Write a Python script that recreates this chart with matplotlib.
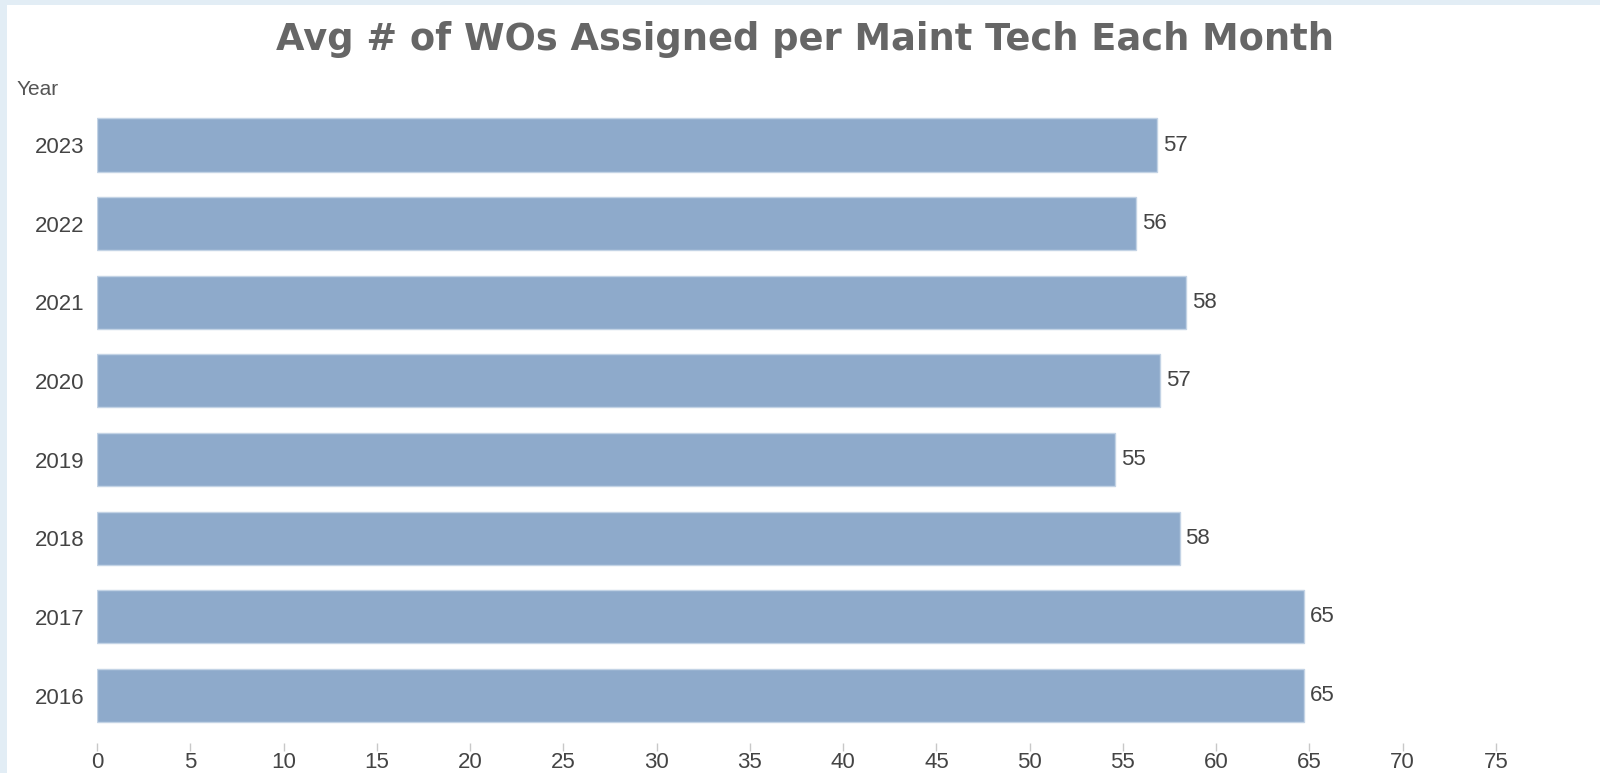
import matplotlib
matplotlib.use("Agg")
import matplotlib.pyplot as plt
from matplotlib.patches import Rectangle

years = ["2016", "2017", "2018", "2019", "2020", "2021", "2022", "2023"]
values = [64.7, 64.7, 58.05, 54.6, 57.0, 58.4, 55.7, 56.85]
value_labels = ["65", "65", "58", "55", "57", "58", "56", "57"]
xticks = [0, 5, 10, 15, 20, 25, 30, 35, 40, 45, 50, 55, 60, 65, 70, 75]
title = "Avg # of WOs Assigned per Maint Tech Each Month"

lab_font = "Liberation Sans"

W, H = 1600, 773
fig = plt.figure(figsize=(W / 100, H / 100), dpi=100)
fig.patch.set_facecolor("#e2edf5")
fig.patches.append(Rectangle((7 / W, 0), 1 - 7 / W, 1 - 5 / H, transform=fig.transFigure,
                             facecolor="white", edgecolor="none", zorder=-10))

x0 = 97
ppu = (1496 - 97) / 75.0
xmax = 79.0
top_px, bot_px = 105.7, 742.7
ax = fig.add_axes([x0 / W, 1 - bot_px / H, xmax * ppu / W, (bot_px - top_px) / H])
ax.set_facecolor("none")
ax.set_zorder(5)

ypos = list(range(len(years)))
ax.barh(ypos, values, height=0.675, color="#8eaacb", edgecolor="#c3d3e5", linewidth=1.0)
for y, v, lab in zip(ypos, values, value_labels):
    ax.text(v + 0.3, y, lab, va="center", ha="left", fontsize=16, family=lab_font, color="#444444")

ax.set_xlim(0, xmax)
ax.set_ylim(-0.6, 7.5)
ax.set_yticks(ypos)
ax.set_yticklabels(years, fontsize=16, family=lab_font, color="#444444")
ax.set_xticks(xticks)
ax.set_xticklabels([str(t) for t in xticks], fontsize=16, family=lab_font, color="#444444")
ax.tick_params(axis="y", length=0, pad=9)
ax.tick_params(axis="x", length=5.8, width=1, color="#c8c8c8", direction="out", pad=1.2)
for s in ax.spines.values():
    s.set_visible(False)

fig.text(17 / W, 1 - 95 / H, "Year", fontsize=15, family=lab_font, color="#555555", ha="left", va="baseline")
fig.text(805 / W, 1 - 50 / H, title, fontsize=26.5, fontweight="bold", family="DejaVu Sans",
         color="#666666", ha="center", va="baseline")

fig.savefig("out.png", dpi=100)
